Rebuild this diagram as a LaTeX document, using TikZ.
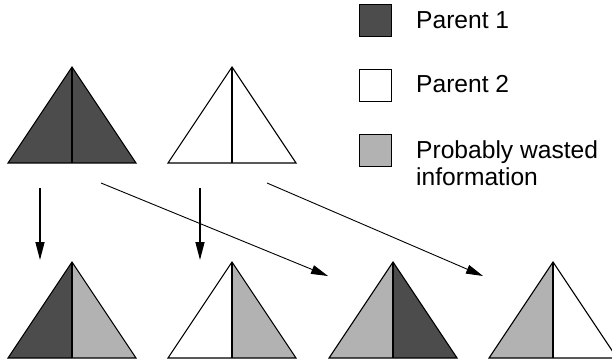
\documentclass[tikz,border=0pt]{standalone}
\usepackage{fontspec}
\setmainfont{Liberation Sans}
\usetikzlibrary{arrows.meta}
\definecolor{pone}{gray}{0.30}
\definecolor{waste}{gray}{0.70}
\tikzset{
  tri/.style={draw=black, line width=1.1pt, line join=miter},
  midline/.style={draw=black, line width=1.1pt},
  varrow/.style={draw=black, line width=1.4pt, -{Triangle[length=18pt,width=9pt]}},
  darrow/.style={draw=black, line width=0.9pt, -{Triangle[length=17pt,width=9pt]}},
  legbox/.style={draw=black, line width=0.8pt, minimum width=32pt, minimum height=32pt, inner sep=0pt},
  legtext/.style={anchor=base west, inner sep=0pt, font=\fontsize{24.6}{28}\selectfont, align=left}
}
\newcommand{\halftri}[4]{%
  % #1 apex x, #2 apex y, #3 left colour, #4 right colour
  \fill[#3] (#1,#2) -- (#1-64,#2+96) -- (#1,#2+96) -- cycle;
  \fill[#4] (#1,#2) -- (#1+64,#2+96) -- (#1,#2+96) -- cycle;
  \draw[tri] (#1,#2) -- (#1-64,#2+96) -- (#1+64,#2+96) -- cycle;
  \draw[midline] (#1,#2) -- (#1,#2+96);
}
\begin{document}
\begin{tikzpicture}[x=1pt,y=-1pt]
\useasboundingbox (0,0) rectangle (612,363);
\clip (0,0) rectangle (612,363);
% top row
\halftri{72}{67}{pone}{pone}
\halftri{232}{67}{white}{white}
% bottom row
\halftri{72}{262}{pone}{waste}
\halftri{232}{262}{white}{waste}
\halftri{393}{262}{waste}{pone}
\halftri{553}{262}{waste}{white}
% legend
\node[legbox, fill=pone] (k1) at (375,20.5) {};
\node[legbox, fill=white] (k2) at (375,85.5) {};
\node[legbox, fill=waste] (k3) at (375,150) {};
\node[legtext] (t1) at (416,28.5) {Parent 1};
\node[legtext] (t2) at (416,93) {Parent 2};
\node[legtext] (t3) at (416,186) {Probably wasted\\information};
% arrows
\coordinate (a1s) at (40,188);
\coordinate (a1e) at (40,260);
\coordinate (a2s) at (200,188);
\coordinate (a2e) at (200,260);
\coordinate (d1s) at (101,183);
\coordinate (d1e) at (328,276);
\coordinate (d2s) at (267,183);
\coordinate (d2e) at (483,276);
\draw[varrow] (a1s) -- (a1e);
\draw[varrow] (a2s) -- (a2e);
\draw[darrow] (d1s) -- (d1e);
\draw[darrow] (d2s) -- (d2e);
\end{tikzpicture}
\end{document}
